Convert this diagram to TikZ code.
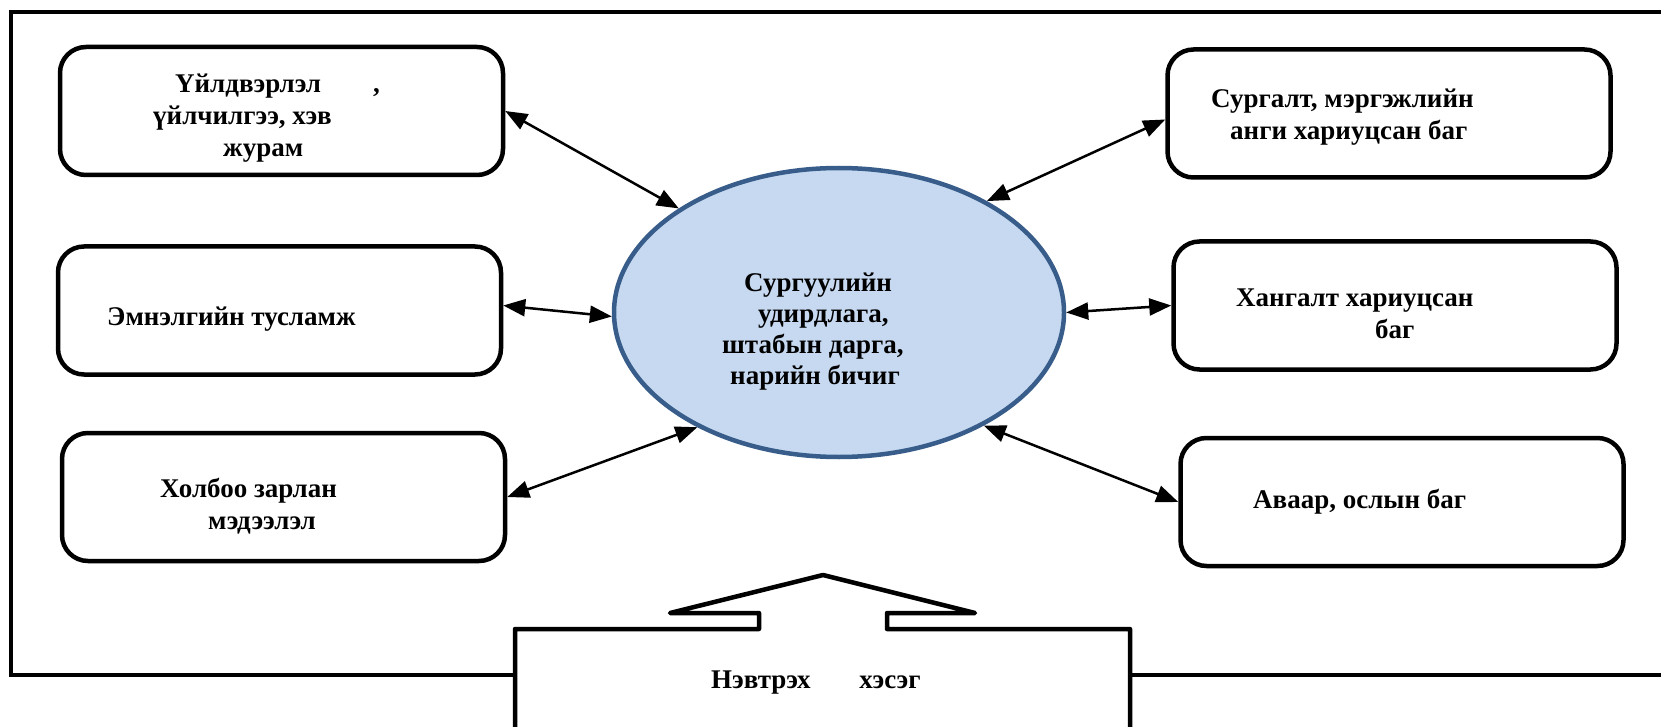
\documentclass[tikz,border=0pt]{standalone}
\usepackage{fontspec}
\setmainfont{Liberation Serif}
\usetikzlibrary{arrows.meta,shapes.geometric}
\definecolor{bossfill}{HTML}{C6D9F1}
\definecolor{bossline}{HTML}{385D8A}

\begin{document}
\begin{tikzpicture}[x=1pt,y=-1pt,
    box/.style={draw,line width=4.5pt,rounded corners=26pt,minimum width=443pt,minimum height=128pt},
    boss/.style={ellipse,draw=bossline,fill=bossfill,line width=4.5pt,minimum width=450pt,minimum height=289pt},
    txt/.style={font=\fontsize{27}{32}\selectfont\bfseries,align=left,anchor=west,inner sep=0pt},
    link/.style={<->,>={Triangle[length=22pt,width=17pt]},line width=2.5pt}]
    \useasboundingbox (0,0) rectangle (1661,727);
    \clip (0,0) rectangle (1661,727);
    % outer frame, open on the right
    \draw[line width=4.5pt] (1700,12) -- (11,12) -- (11,675) -- (515,675)
                          (1130,675) -- (1700,675);
    % entrance
    \draw[line width=4.5pt,line join=round] (515,740) -- (515,629) -- (759,629) -- (759,613) -- (670,613)
        -- (823,575) -- (975,613) -- (887,613) -- (887,629) -- (1130,629) -- (1130,740);
    \node[txt] (t7) at (711,683) {Нэвтрэх\hspace{49pt}хэсэг};
    % centre
    \node[boss] (boss) at (839,312.5) {};
    \node[txt,font=\fontsize{27}{31}\selectfont\bfseries] (t0) at (722,332)
        {\hspace*{22pt}Сургуулийн\\ \hspace*{36pt}удирдлага,\\ штабын дарга,\\ \hspace*{8pt}нарийн бичиг};
    % left boxes
    \node[box] (b1) at (281.5,111) {};
    \node[box] (b2) at (279.5,310.5) {};
    \node[box] (b3) at (283.5,497) {};
    \node[txt] (t1) at (153,118)
        {\hspace*{22pt}Үйлдвэрлэл\hspace{52pt},\\ үйлчилгээ, хэв\\ \hspace*{70pt}журам};
    \node[txt] (t2) at (107,319) {Эмнэлгийн тусламж};
    \node[txt] (t3) at (160,506) {Холбоо зарлан\\ \hspace*{48pt}мэдээлэл};
    % right boxes
    \node[box] (b4) at (1389,113.5) {};
    \node[box] (b5) at (1395,305.5) {};
    \node[box] (b6) at (1402,502) {};
    \node[txt] (t4) at (1211,117) {Сургалт, мэргэжлийн\\ \hspace*{19pt}анги хариуцсан баг};
    \node[txt] (t5) at (1236,314) {Хангалт хариуцсан\\ \hspace*{139pt}баг};
    \node[txt] (t6) at (1253,502) {Аваар, ослын баг};
    \path[link]
        (b1.east) edge (boss.147)
        ([yshift=5pt]b2.east) edge (boss.181)
        (b3.east) edge (boss.219)
        ([yshift=-6pt]b4.west) edge (boss.37)
        (b5.west) edge (boss.0)
        (b6.west) edge (boss.322);
\end{tikzpicture}
\end{document}
